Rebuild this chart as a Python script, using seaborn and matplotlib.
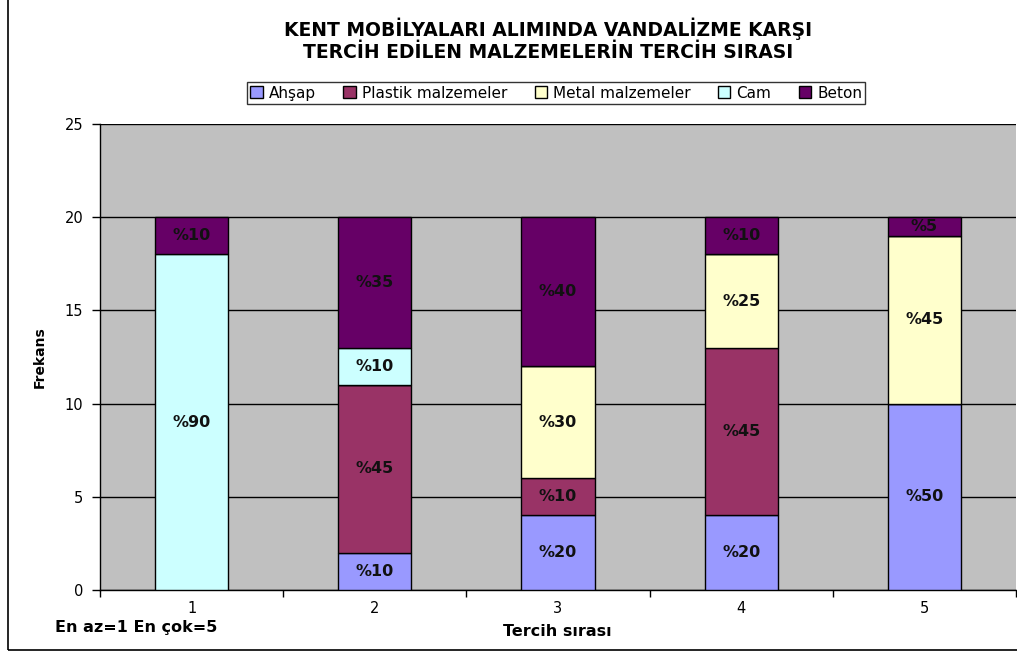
import numpy as np
import pandas as pd
import matplotlib
matplotlib.use("Agg")
import matplotlib.pyplot as plt
import seaborn as sns
from matplotlib.patches import Rectangle

# data (frequencies, n=20 per rank)
ranks = ["1", "2", "3", "4", "5"]
series = ["Ahşap", "Plastik malzemeler", "Metal malzemeler", "Cam", "Beton"]
ahsap = [0, 2, 4, 4, 10]
plastik = [0, 9, 2, 9, 0]
metal = [0, 0, 6, 5, 9]
cam = [18, 2, 0, 0, 0]
beton = [2, 7, 8, 2, 1]

colors = ["#9999FF", "#993366", "#FFFFCC", "#CCFFFF", "#660066"]

values = [ahsap, plastik, metal, cam, beton]
rows = []
for name, vals in zip(series, values):
    for r, v in zip(ranks, vals):
        rows.append({"rank": r, "series": name, "freq": v})
df = pd.DataFrame(rows)

sns.set_style("white")
plt.rcParams["font.family"] = ["DejaVu Sans"]
plt.rcParams["text.color"] = "black"
plt.rcParams["axes.labelcolor"] = "black"
plt.rcParams["xtick.color"] = "black"
plt.rcParams["ytick.color"] = "black"

fig = plt.figure(figsize=(10.17, 6.55), dpi=100)
ax = fig.add_axes([0.0983, 0.0992, 0.9007, 0.7115])
ax.set_facecolor("#C0C0C0")

# stacked bars, one seaborn call per series
bottom = np.zeros(len(ranks))
totals = df.groupby("rank", sort=False)["freq"].sum().values
for name, col in zip(series, colors):
    sub = df[df["series"] == name]
    vals = sub["freq"].values
    sns.barplot(data=sub, x="rank", y="freq", bottom=bottom, color=col,
                width=0.4, edgecolor="black", linewidth=1.0, ax=ax,
                errorbar=None, saturation=1, zorder=3, label=name)
    for i, v in enumerate(vals):
        if v > 0:
            pct = int(round(v / totals[i] * 100))
            ax.text(i, bottom[i] + v / 2, f"%{pct}", ha="center", va="center",
                    fontsize=11.5, fontweight="bold", color="#111111", zorder=5)
    bottom = bottom + vals

ax.set_ylim(0, 25)
ax.set_xlim(-0.5, 4.5)
ax.set_yticks([0, 5, 10, 15, 20, 25])
ax.yaxis.grid(True, color="black", linewidth=1.0, zorder=0)
ax.set_axisbelow(True)
ax.set_xticks(range(5))
ax.set_xticklabels(ranks)
ax.set_xticks(np.arange(-0.5, 5, 1), minor=True)
ax.tick_params(axis="x", which="major", length=0, pad=8, labelsize=10.5)
ax.tick_params(axis="x", which="minor", length=5, width=1, direction="out", bottom=True)
ax.tick_params(axis="y", length=6, width=1, direction="out", left=True, labelsize=10.5, pad=6)
for s in ["top", "right"]:
    ax.spines[s].set_visible(False)
for s in ["left", "bottom"]:
    ax.spines[s].set_color("black")
    ax.spines[s].set_linewidth(1.0)

ax.set_xlabel("")
ax.set_ylabel("Frekans", fontsize=10, fontweight="bold")
ax.yaxis.set_label_coords(-0.058, 0.5)

fig.text(0.539, 0.956, "KENT MOBİLYALARI ALIMINDA VANDALİZME KARŞI",
         ha="center", va="center", fontsize=13.5, fontweight="bold")
fig.text(0.539, 0.920, "TERCİH EDİLEN MALZEMELERİN TERCİH SIRASI",
         ha="center", va="center", fontsize=13.5, fontweight="bold")
fig.text(0.548, 0.036, "Tercih sırası", ha="center", va="center",
         fontsize=11.5, fontweight="bold")
fig.text(0.054, 0.042, "En az=1 En çok=5", ha="left", va="center",
         fontsize=11.5, fontweight="bold")

handles, labels = ax.get_legend_handles_labels()
leg = fig.legend(handles, labels, loc="center", bbox_to_anchor=(0.547, 0.858),
                 ncol=5, frameon=True, fontsize=11, handlelength=0.8,
                 handleheight=0.8, handletextpad=0.4, columnspacing=1.8,
                 borderpad=0.2, fancybox=False, edgecolor="black")
leg.get_frame().set_linewidth(1.0)
if ax.get_legend() is not None:
    ax.get_legend().remove()

# outer chart frame
fig.patches.append(Rectangle((0.008, 0.008), 1.5, 1.5, transform=fig.transFigure,
                             fill=False, edgecolor="black", linewidth=1.2))

fig.savefig("out.png", dpi=100)
